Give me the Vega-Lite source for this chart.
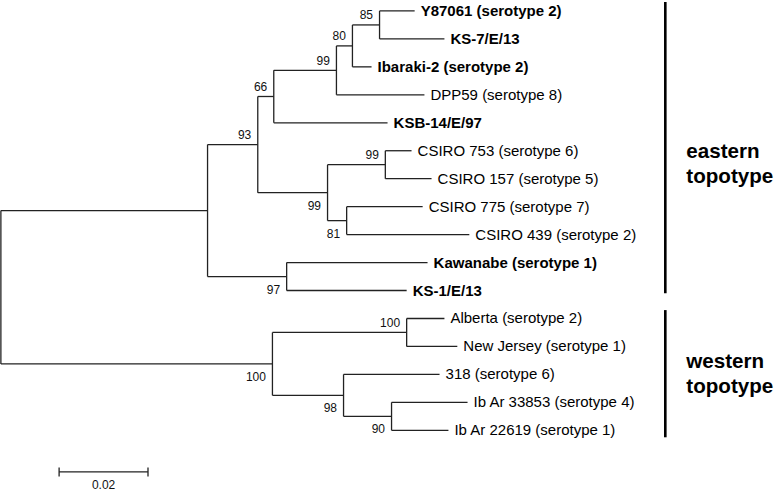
{
  "$schema": "https://vega.github.io/schema/vega-lite/v6.json",
  "autosize": {"type": "fit", "contains": "padding"},
  "width": 774,
  "height": 491,
  "padding": 0,
  "background": "white",
  "config": {"view": {"stroke": null}, "text": {"font": "Liberation Sans"}},
  "datasets": {
    "nodes": [
      {"id": "root", "parent": null, "dist": 0.0002, "y": 9.88, "leaf": false, "label": null, "japan": false, "support": null, "side": null},
      {"id": "east", "parent": "root", "dist": 0.0467, "y": 7.14, "leaf": false, "label": null, "japan": false, "support": null, "side": null},
      {"id": "west", "parent": "root", "dist": 0.0613, "y": 12.625, "leaf": false, "label": null, "japan": false, "support": 100, "side": "below"},
      {"id": "n93", "parent": "east", "dist": 0.058, "y": 4.78, "leaf": false, "label": null, "japan": false, "support": 93, "side": "above"},
      {"id": "n97", "parent": "east", "dist": 0.0645, "y": 9.5, "leaf": false, "label": null, "japan": false, "support": 97, "side": "below"},
      {"id": "n66", "parent": "n93", "dist": 0.0616, "y": 3.06, "leaf": false, "label": null, "japan": false, "support": 66, "side": "above"},
      {"id": "n99b", "parent": "n93", "dist": 0.0737, "y": 6.5, "leaf": false, "label": null, "japan": false, "support": 99, "side": "below"},
      {"id": "n99a", "parent": "n66", "dist": 0.0757, "y": 2.125, "leaf": false, "label": null, "japan": false, "support": 99, "side": "above"},
      {"id": "KSB", "parent": "n66", "dist": 0.0872, "y": 4, "leaf": true, "label": "KSB-14/E/97", "japan": true, "support": null, "side": null},
      {"id": "n80", "parent": "n99a", "dist": 0.0793, "y": 1.25, "leaf": false, "label": null, "japan": false, "support": 80, "side": "above"},
      {"id": "DPP59", "parent": "n99a", "dist": 0.0955, "y": 3, "leaf": true, "label": "DPP59 (serotype 8)", "japan": false, "support": null, "side": null},
      {"id": "n85", "parent": "n80", "dist": 0.0854, "y": 0.5, "leaf": false, "label": null, "japan": false, "support": 85, "side": "above"},
      {"id": "Ibaraki", "parent": "n80", "dist": 0.0836, "y": 2, "leaf": true, "label": "Ibaraki-2 (serotype 2)", "japan": true, "support": null, "side": null},
      {"id": "Y87061", "parent": "n85", "dist": 0.0933, "y": 0, "leaf": true, "label": "Y87061 (serotype 2)", "japan": true, "support": null, "side": null},
      {"id": "KS7", "parent": "n85", "dist": 0.1, "y": 1, "leaf": true, "label": "KS-7/E/13", "japan": true, "support": null, "side": null},
      {"id": "n99c", "parent": "n99b", "dist": 0.0867, "y": 5.5, "leaf": false, "label": null, "japan": false, "support": 99, "side": "above"},
      {"id": "n81", "parent": "n99b", "dist": 0.078, "y": 7.5, "leaf": false, "label": null, "japan": false, "support": 81, "side": "below"},
      {"id": "C753", "parent": "n99c", "dist": 0.0926, "y": 5, "leaf": true, "label": "CSIRO 753 (serotype 6)", "japan": false, "support": null, "side": null},
      {"id": "C157", "parent": "n99c", "dist": 0.0971, "y": 6, "leaf": true, "label": "CSIRO 157 (serotype 5)", "japan": false, "support": null, "side": null},
      {"id": "C775", "parent": "n81", "dist": 0.0951, "y": 7, "leaf": true, "label": "CSIRO 775 (serotype 7)", "japan": false, "support": null, "side": null},
      {"id": "C439", "parent": "n81", "dist": 0.1056, "y": 8, "leaf": true, "label": "CSIRO 439 (serotype 2)", "japan": false, "support": null, "side": null},
      {"id": "Kawanabe", "parent": "n97", "dist": 0.0962, "y": 9, "leaf": true, "label": "Kawanabe (serotype 1)", "japan": true, "support": null, "side": null},
      {"id": "KS1", "parent": "n97", "dist": 0.0915, "y": 10, "leaf": true, "label": "KS-1/E/13", "japan": true, "support": null, "side": null},
      {"id": "nAN", "parent": "west", "dist": 0.0915, "y": 11.5, "leaf": false, "label": null, "japan": false, "support": 100, "side": "above"},
      {"id": "n98", "parent": "west", "dist": 0.0773, "y": 13.75, "leaf": false, "label": null, "japan": false, "support": 98, "side": "below"},
      {"id": "Alberta", "parent": "nAN", "dist": 0.1, "y": 11, "leaf": true, "label": "Alberta (serotype 2)", "japan": false, "support": null, "side": null},
      {"id": "NJ", "parent": "nAN", "dist": 0.1029, "y": 12, "leaf": true, "label": "New Jersey (serotype 1)", "japan": false, "support": null, "side": null},
      {"id": "S318", "parent": "n98", "dist": 0.0989, "y": 13, "leaf": true, "label": "318 (serotype 6)", "japan": false, "support": null, "side": null},
      {"id": "n90", "parent": "n98", "dist": 0.0881, "y": 14.5, "leaf": false, "label": null, "japan": false, "support": 90, "side": "below"},
      {"id": "Ib33853", "parent": "n90", "dist": 0.1052, "y": 14, "leaf": true, "label": "Ib Ar 33853 (serotype 4)", "japan": false, "support": null, "side": null},
      {"id": "Ib22619", "parent": "n90", "dist": 0.1009, "y": 15, "leaf": true, "label": "Ib Ar 22619 (serotype 1)", "japan": false, "support": null, "side": null}
    ],
    "topotypes": [
      {"name": "eastern\ntopotype", "y_start": -0.32, "y_end": 10.1, "label_y": 5.03},
      {"name": "western\ntopotype", "y_start": 10.7, "y_end": 15.25, "label_y": 12.57}
    ],
    "scalebar": [
      {"from": 0.0133, "to": 0.0333, "y": 16.49, "label": "0.02"}
    ]
  },
  "encoding": {},
  "layer": [
    {
      "data": {"name": "nodes"},
      "transform": [
        {"filter": "datum.parent != null"},
        {"lookup": "parent", "from": {"data": {"name": "nodes"}, "key": "id", "fields": ["dist"]}, "as": ["pdist"]}
      ],
      "mark": {"type": "rule", "color": "#222", "strokeWidth": 1.3},
      "encoding": {
        "x": {"field": "pdist", "type": "quantitative", "scale": {"domain": [0, 0.17393], "nice": false, "zero": false}, "axis": null},
        "x2": {"field": "dist"},
        "y": {"field": "y", "type": "quantitative", "scale": {"domain": [-0.32, 17.135], "nice": false, "zero": false, "reverse": true}, "axis": null}
      }
    },
    {
      "data": {"name": "nodes"},
      "transform": [
        {"filter": "datum.parent != null"},
        {"aggregate": [{"op": "min", "field": "y", "as": "ymin"}, {"op": "max", "field": "y", "as": "ymax"}], "groupby": ["parent"]},
        {"lookup": "parent", "from": {"data": {"name": "nodes"}, "key": "id", "fields": ["dist"]}, "as": ["pdist"]}
      ],
      "mark": {"type": "rule", "color": "#222", "strokeWidth": 1.3},
      "encoding": {
        "x": {"field": "pdist", "type": "quantitative"},
        "y": {"field": "ymin", "type": "quantitative"},
        "y2": {"field": "ymax"}
      }
    },
    {
      "data": {"name": "nodes"},
      "transform": [{"filter": "datum.leaf && datum.japan"}],
      "mark": {"type": "text", "align": "left", "baseline": "middle", "dx": 6, "fontSize": 15, "fontWeight": "bold", "color": "#000"},
      "encoding": {
        "x": {"field": "dist", "type": "quantitative"},
        "y": {"field": "y", "type": "quantitative"},
        "text": {"field": "label"}
      }
    },
    {
      "data": {"name": "nodes"},
      "transform": [{"filter": "datum.leaf && !datum.japan"}],
      "mark": {"type": "text", "align": "left", "baseline": "middle", "dx": 6, "fontSize": 15, "fontWeight": "normal", "color": "#000"},
      "encoding": {
        "x": {"field": "dist", "type": "quantitative"},
        "y": {"field": "y", "type": "quantitative"},
        "text": {"field": "label"}
      }
    },
    {
      "data": {"name": "nodes"},
      "transform": [{"filter": "datum.support != null && datum.side == 'above'"}],
      "mark": {"type": "text", "align": "right", "baseline": "middle", "dx": -6.5, "dy": -9.5, "fontSize": 12, "color": "#111"},
      "encoding": {
        "x": {"field": "dist", "type": "quantitative"},
        "y": {"field": "y", "type": "quantitative"},
        "text": {"field": "support"}
      }
    },
    {
      "data": {"name": "nodes"},
      "transform": [{"filter": "datum.support != null && datum.side == 'below'"}],
      "mark": {"type": "text", "align": "right", "baseline": "middle", "dx": -6.5, "dy": 13, "fontSize": 12, "color": "#111"},
      "encoding": {
        "x": {"field": "dist", "type": "quantitative"},
        "y": {"field": "y", "type": "quantitative"},
        "text": {"field": "support"}
      }
    },
    {
      "data": {"name": "topotypes"},
      "mark": {"type": "rule", "color": "#000", "strokeWidth": 2.6},
      "encoding": {
        "x": {"datum": 0.1497, "type": "quantitative"},
        "y": {"field": "y_start", "type": "quantitative"},
        "y2": {"field": "y_end"}
      }
    },
    {
      "data": {"name": "topotypes"},
      "mark": {"type": "text", "align": "left", "baseline": "middle", "dx": 21, "fontSize": 20.6, "fontWeight": "bold", "lineBreak": "\n", "lineHeight": 25, "color": "#000"},
      "encoding": {
        "x": {"datum": 0.1497, "type": "quantitative"},
        "y": {"field": "label_y", "type": "quantitative"},
        "text": {"field": "name"}
      }
    },
    {
      "data": {"name": "scalebar"},
      "mark": {"type": "rule", "color": "#222", "strokeWidth": 1.3},
      "encoding": {
        "x": {"field": "from", "type": "quantitative"},
        "x2": {"field": "to"},
        "y": {"field": "y", "type": "quantitative"}
      }
    },
    {
      "data": {"name": "scalebar"},
      "transform": [{"fold": ["from", "to"], "as": ["end", "pos"]}],
      "mark": {"type": "tick", "orient": "vertical", "size": 9, "thickness": 1.3, "color": "#222", "opacity": 1},
      "encoding": {
        "x": {"field": "pos", "type": "quantitative"},
        "y": {"field": "y", "type": "quantitative"}
      }
    },
    {
      "data": {"name": "scalebar"},
      "mark": {"type": "text", "align": "center", "baseline": "middle", "dx": 44.5, "dy": 13, "fontSize": 12, "color": "#111"},
      "encoding": {
        "x": {"field": "from", "type": "quantitative"},
        "y": {"field": "y", "type": "quantitative"},
        "text": {"field": "label"}
      }
    }
  ]
}
